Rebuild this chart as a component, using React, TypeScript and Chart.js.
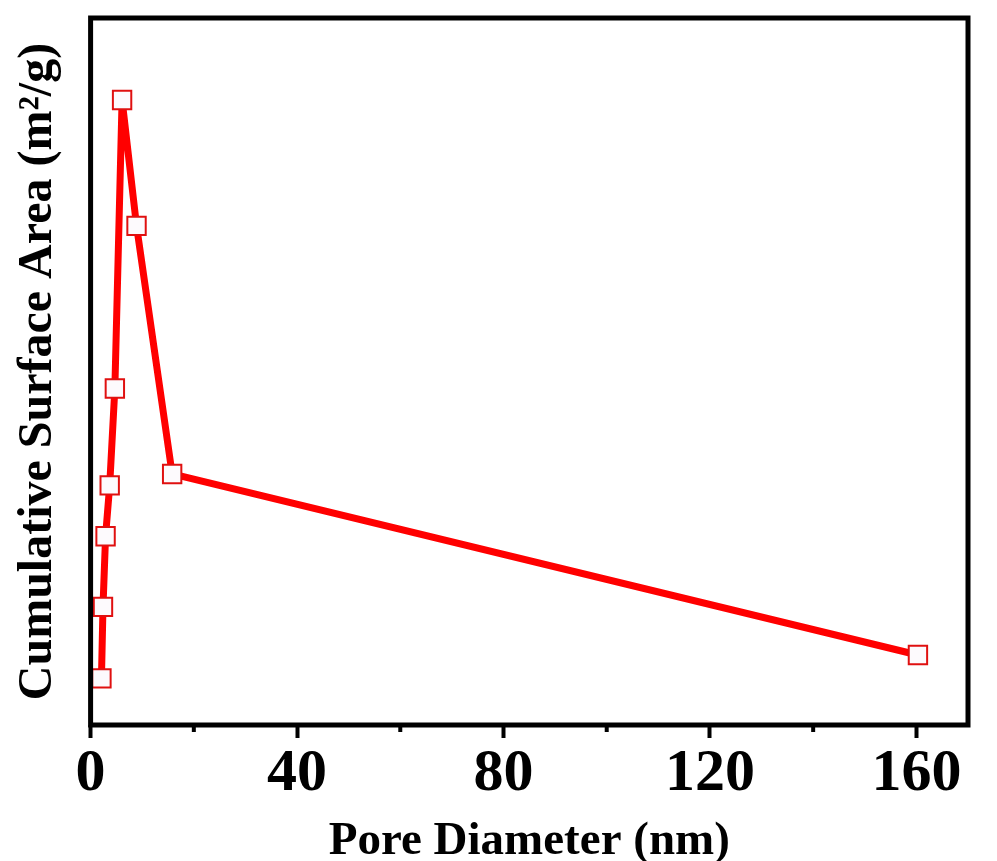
import React, { useEffect, useRef } from "react";
import { Chart, registerables } from "chart.js";

Chart.register(...registerables);

// pore diameter (nm) vs cumulative surface area (arbitrary, y axis has no labels)
const poreDiameter = [2.1, 2.4, 2.9, 3.7, 4.7, 6.1, 8.9, 15.8, 160.3];
const surfaceArea = [6.6, 16.7, 26.7, 33.9, 47.6, 88.4, 70.6, 35.5, 9.9];
const xMajorTicks = [0, 40, 80, 120, 160];
const xMinorTicks = [20, 60, 100, 140];

const serif = "'Liberation Serif', 'Times New Roman', serif";

// black box round the plot plus the short minor ticks on the x axis
const framePlugin = {
  id: "frame",
  afterDraw(chart: any) {
    const { ctx, chartArea: a, scales } = chart;
    ctx.save();
    ctx.strokeStyle = "#000";
    ctx.lineWidth = 5;
    ctx.strokeRect(a.left, a.top, a.right - a.left, a.bottom - a.top);
    ctx.lineWidth = 4;
    xMinorTicks.forEach((v) => {
      const px = scales.x.getPixelForValue(v);
      ctx.beginPath();
      ctx.moveTo(px, a.bottom);
      ctx.lineTo(px, a.bottom + 7);
      ctx.stroke();
    });
    ctx.restore();
  },
};

const PoreChart = () => {
  const canvasRef = useRef<HTMLCanvasElement | null>(null);
  const chartRef = useRef<Chart | null>(null);

  useEffect(() => {
    if (chartRef.current) chartRef.current.destroy();
    const ctx = canvasRef.current?.getContext("2d");
    if (!ctx) return;

    chartRef.current = new Chart(ctx, {
      type: "line",
      data: {
        datasets: [
          {
            data: poreDiameter.map((x, i) => ({ x, y: surfaceArea[i] })),
            borderColor: "#ff0000",
            borderWidth: 7,
            pointStyle: "rect",
            pointRadius: 13,
            pointBorderWidth: 2,
            pointBorderColor: "#e01010",
            pointBackgroundColor: "#fdfafd",
            tension: 0,
            fill: false,
          },
        ],
      },
      options: {
        animation: false,
        responsive: true,
        maintainAspectRatio: false,
        layout: { padding: { top: 18, right: 29, left: 4, bottom: 0 } },
        plugins: {
          legend: { display: false },
          tooltip: { enabled: false },
        },
        scales: {
          x: {
            type: "linear",
            min: 0,
            max: 170,
            afterBuildTicks: (scale: any) => {
              scale.ticks = xMajorTicks.map((value) => ({ value }));
            },
            ticks: {
              color: "#000",
              font: { family: serif, size: 60, weight: "bold", lineHeight: 1 },
              padding: 6,
              maxRotation: 0,
              autoSkip: false,
            },
            grid: {
              drawOnChartArea: false,
              tickLength: 13,
              tickWidth: 4,
              color: "#000",
            },
            border: { display: false },
            title: {
              display: true,
              text: "Pore Diameter (nm)",
              color: "#000",
              font: { family: serif, size: 47, weight: "bold", lineHeight: 1 },
              padding: { top: 8, bottom: -4 },
            },
          },
          y: {
            min: 0,
            max: 100,
            ticks: { display: false },
            grid: { display: false, drawTicks: false },
            border: { display: false },
            title: {
              display: true,
              text: "Cumulative Surface Area (m\u00b2/g)",
              color: "#000",
              font: { family: serif, size: 48, weight: "bold", lineHeight: 1.2 },
              padding: { top: 6, bottom: 23 },
            },
          },
        },
      },
      plugins: [framePlugin],
    });

    return () => {
      if (chartRef.current) {
        chartRef.current.destroy();
        chartRef.current = null;
      }
    };
  }, []);

  return (
    <div style={{ position: "absolute", left: 0, top: 0, width: 997, height: 861, background: "#fff" }}>
      <canvas ref={canvasRef} />
    </div>
  );
};

export default function App() {
  return <PoreChart />;
}
